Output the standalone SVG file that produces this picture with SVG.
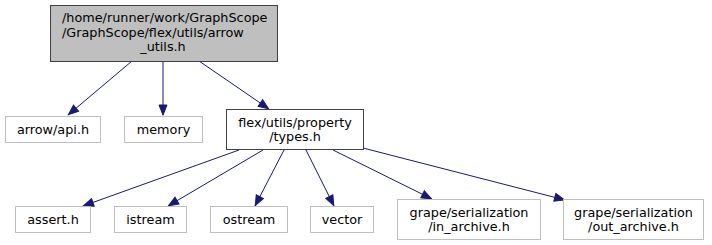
<svg xmlns="http://www.w3.org/2000/svg" width="712" height="245" viewBox="0 0 712 245">
<style>
  .node rect { fill: #ffffff; stroke: #bfbfbf; stroke-width: 1; }
  .node.doc rect { stroke: #404040; }
  .node.root rect { fill: #bfbfbf; stroke: #404040; }
  text { font-family: "DejaVu Sans", "Liberation Sans", sans-serif; font-size: 12.8px; fill: #000000; }
  .edges path { fill: none; stroke: #191970; stroke-width: 1; marker-end: url(#arrow); }
</style>
<defs>
  <marker id="arrow" markerUnits="userSpaceOnUse" markerWidth="12" markerHeight="10" refX="10.5" refY="4.5" orient="auto" overflow="visible">
    <path d="M0,0.5 L10,4.5 L0,8.5 z" fill="#191970" stroke="#191970" stroke-width="1"/>
  </marker>
</defs>
<rect width="712" height="245" fill="#ffffff"/>

<g class="edges">
  <path d="M132,61 L68,115"/>
  <path d="M163,61 L163,115.5"/>
  <path d="M199,61 L269,109"/>
  <path d="M239,150 L83,206"/>
  <path d="M263,150 L168,206"/>
  <path d="M284,150 L255,206"/>
  <path d="M306,150 L334,206"/>
  <path d="M333,150 L432,199"/>
  <path d="M363,148 L565,200"/>
</g>

<g id="node-arrow-utils" class="node root">
  <rect x="50.5" y="5.5" width="227" height="56"/>
  <text x="62" y="22">/home/runner/work/GraphScope</text>
  <text x="62" y="36.5">/GraphScope/flex/utils/arrow</text>
  <text x="163" y="51" text-anchor="middle">_utils.h</text>
</g>

<g id="node-arrow-api" class="node">
  <rect x="5.5" y="116.5" width="95" height="26"/>
  <text x="53" y="134" text-anchor="middle">arrow/api.h</text>
</g>

<g id="node-memory" class="node">
  <rect x="124.5" y="116.5" width="78" height="26"/>
  <text x="163.5" y="134" text-anchor="middle">memory</text>
</g>

<g id="node-types" class="node doc">
  <rect x="226.5" y="109.5" width="137" height="40"/>
  <text x="295" y="126.5" text-anchor="middle">flex/utils/property</text>
  <text x="295" y="141" text-anchor="middle">/types.h</text>
</g>

<g id="node-assert" class="node">
  <rect x="15.5" y="206.5" width="75" height="26"/>
  <text x="53" y="224" text-anchor="middle">assert.h</text>
</g>

<g id="node-istream" class="node">
  <rect x="114.5" y="206.5" width="72" height="26"/>
  <text x="150.5" y="224" text-anchor="middle">istream</text>
</g>

<g id="node-ostream" class="node">
  <rect x="210.5" y="206.5" width="77" height="26"/>
  <text x="249" y="224" text-anchor="middle">ostream</text>
</g>

<g id="node-vector" class="node">
  <rect x="310.5" y="206.5" width="63" height="26"/>
  <text x="342" y="224" text-anchor="middle">vector</text>
</g>

<g id="node-in-archive" class="node">
  <rect x="397.5" y="199.5" width="143" height="40"/>
  <text x="469" y="216.5" text-anchor="middle">grape/serialization</text>
  <text x="469" y="231" text-anchor="middle">/in_archive.h</text>
</g>

<g id="node-out-archive" class="node">
  <rect x="563.5" y="199.5" width="140" height="40"/>
  <text x="633.5" y="216.5" text-anchor="middle">grape/serialization</text>
  <text x="633.5" y="231" text-anchor="middle">/out_archive.h</text>
</g>
</svg>
